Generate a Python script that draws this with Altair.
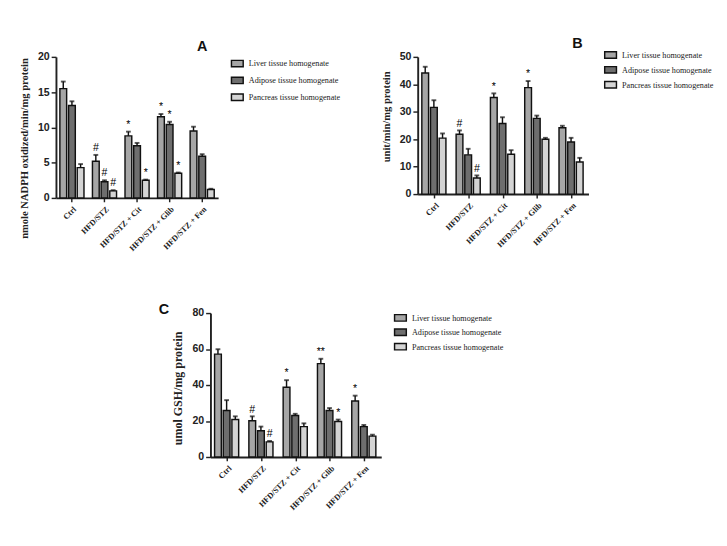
import altair as alt
import pandas as pd

categories = ["Ctrl", "HFD/STZ", "HFD/STZ + Cit", "HFD/STZ + Glib", "HFD/STZ + Fen"]
tissues = ["Liver tissue homogenate", "Adipose tissue homogenate", "Pancreas tissue homogenate"]

# Panel A: nmole NADPH oxidized/min/mg protein
A_liver = [15.5, 5.2, 8.8, 11.5, 9.5]
A_liver_err = [1.0, 0.9, 0.6, 0.4, 0.6]
A_adipose = [13.1, 2.3, 7.4, 10.4, 5.9]
A_adipose_err = [0.6, 0.2, 0.4, 0.4, 0.3]
A_pancreas = [4.3, 1.0, 2.5, 3.5, 1.2]
A_pancreas_err = [0.5, 0.1, 0.1, 0.1, 0.1]
A_liver_sig = ["", "#", "*", "*", ""]
A_adipose_sig = ["", "#", "", "*", ""]
A_pancreas_sig = ["", "#", "*", "*", ""]

# Panel B: unit/min/mg protein
B_liver = [44.1, 21.8, 35.2, 38.8, 24.2]
B_liver_err = [2.3, 1.4, 1.5, 2.4, 0.7]
B_adipose = [31.6, 14.3, 25.7, 27.6, 19.0]
B_adipose_err = [2.6, 2.2, 2.3, 1.0, 1.5]
B_pancreas = [20.4, 5.9, 14.5, 20.0, 11.7]
B_pancreas_err = [1.7, 0.9, 1.5, 0.5, 1.5]
B_liver_sig = ["", "#", "*", "*", ""]
B_adipose_sig = ["", "", "", "", ""]
B_pancreas_sig = ["", "#", "", "", ""]

# Panel C: umol GSH/mg protein
C_liver = [57.2, 20.1, 38.8, 51.9, 31.1]
C_liver_err = [2.7, 2.5, 3.9, 2.7, 3.0]
C_adipose = [25.8, 14.6, 23.1, 25.8, 16.9]
C_adipose_err = [5.8, 2.3, 0.9, 1.4, 0.9]
C_pancreas = [20.8, 8.4, 16.9, 19.7, 11.6]
C_pancreas_err = [1.8, 0.5, 1.8, 1.1, 0.8]
C_liver_sig = ["", "#", "*", "**", "*"]
C_adipose_sig = ["", "", "", "", ""]
C_pancreas_sig = ["", "#", "", "*", ""]

fills = ["#a6a6a6", "#6e6e6e", "#d4d4d4"]


def make_df(series, errs, sigs):
    rows = []
    for t, vals, es, ss in zip(tissues, series, errs, sigs):
        for c, v, e, s in zip(categories, vals, es, ss):
            rows.append({"cat": c, "tissue": t, "value": v, "top": v + e, "sig": s})
    return pd.DataFrame(rows)


def panel(df, ymax, ystep, ytitle, letter, w, h, lx, ly, rowpad, title_dx, title_offset,
          ytitle_size, title_y):
    yaxis = alt.Axis(
        title=ytitle, values=list(range(0, ymax + 1, ystep)), grid=False,
        labelOverlap=False, labelFlush=False,
        labelFont="Liberation Sans", labelFontSize=11, labelFontWeight="bold", labelColor="#222",
        titleFont="Liberation Serif", titleFontSize=ytitle_size, titleFontWeight="bold",
        titleColor="#222", titlePadding=8, tickSize=5, tickWidth=1.5, tickColor="#222",
        domainColor="#222", domainWidth=2, labelPadding=2, titleY=title_y,
    )
    xaxis = alt.Axis(
        title=None, labelAngle=-45, labelFont="Liberation Serif", labelFontSize=8.5,
        labelFontWeight="bold", labelColor="#222", tickSize=4, tickWidth=1.5, tickColor="#222",
        domainColor="#222", domainWidth=2, labelPadding=3
    )
    yscale = alt.Scale(domain=[0, ymax], nice=False)
    base = alt.Chart(df).encode(
        x=alt.X("cat:N", sort=categories, axis=xaxis,
                scale=alt.Scale(paddingInner=0.26, paddingOuter=0.12)),
        xOffset=alt.XOffset("tissue:N", sort=tissues, scale=alt.Scale(paddingInner=0.22)),
    )
    bars = base.mark_bar(stroke="#111", strokeWidth=1.5).encode(
        y=alt.Y("value:Q", scale=yscale, axis=yaxis),
        color=alt.Color(
            "tissue:N", sort=tissues,
            scale=alt.Scale(domain=tissues, range=fills),
            legend=alt.Legend(
                title=None, orient="none", legendX=lx, legendY=ly,
                symbolType="M-1,-0.55H1V0.55H-1Z", symbolSize=150,
                symbolStrokeColor="#111", symbolStrokeWidth=1.5, symbolOpacity=1,
                labelFont="Liberation Serif", labelFontSize=8.5, labelColor="#222",
                rowPadding=rowpad, labelOffset=5,
            ),
        ),
    )
    rule = base.mark_rule(strokeWidth=1.5, color="#111").encode(
        y=alt.Y("value:Q", scale=yscale, axis=yaxis), y2="top:Q")
    cap = base.mark_tick(thickness=2, size=5, color="#111").encode(
        y=alt.Y("top:Q", scale=yscale, axis=yaxis))
    txt = base.mark_text(dy=-7, fontSize=11, color="#000", font="Liberation Sans").encode(
        y=alt.Y("top:Q", scale=yscale, axis=yaxis), text="sig:N")
    return alt.layer(bars, rule, cap, txt).properties(
        width=w, height=h,
        title=alt.Title(letter, anchor="start", frame="group", dx=title_dx, offset=title_offset,
                        font="Liberation Sans", fontSize=15, fontWeight="bold", color="#111"),
    )


dfA = make_df([A_liver, A_adipose, A_pancreas], [A_liver_err, A_adipose_err, A_pancreas_err],
              [A_liver_sig, A_adipose_sig, A_pancreas_sig])
dfB = make_df([B_liver, B_adipose, B_pancreas], [B_liver_err, B_adipose_err, B_pancreas_err],
              [B_liver_sig, B_adipose_sig, B_pancreas_sig])
dfC = make_df([C_liver, C_adipose, C_pancreas], [C_liver_err, C_adipose_err, C_pancreas_err],
              [C_liver_sig, C_adipose_sig, C_pancreas_sig])

pA = panel(dfA, 20, 5, "nmole NADPH oxidized/min/mg protein", "A", 169, 147, 182, 0, 3.5, 147, -3, 11, 95)
pB = panel(dfB, 50, 10, "unit/min/mg protein", "B", 178, 143, 194, -9, 1.5, 161, -3, 11, 62)
pC = panel(dfC, 80, 20, "umol GSH/mg protein", "C", 178, 150, 191, -2, 1, -54, -10, 12.5, 78)

spacer = alt.Chart(pd.DataFrame({"a": [0]})).mark_point(opacity=0).encode(
    x=alt.value(0), y=alt.value(0)).properties(width=155, height=10)

row1 = alt.hconcat(pA, pB, spacing=208, bounds="flush").resolve_scale(color="independent")
row2 = alt.hconcat(spacer, pC, spacing=6, bounds="flush").resolve_scale(color="independent")

chart = alt.vconcat(row1, row2, spacing=52).resolve_scale(
    color="independent").configure_view(stroke=None).properties(
    padding={"left": 11, "top": 19, "right": 5, "bottom": 5})

chart.save("out.html", embed_options={"renderer": "svg", "actions": False})
